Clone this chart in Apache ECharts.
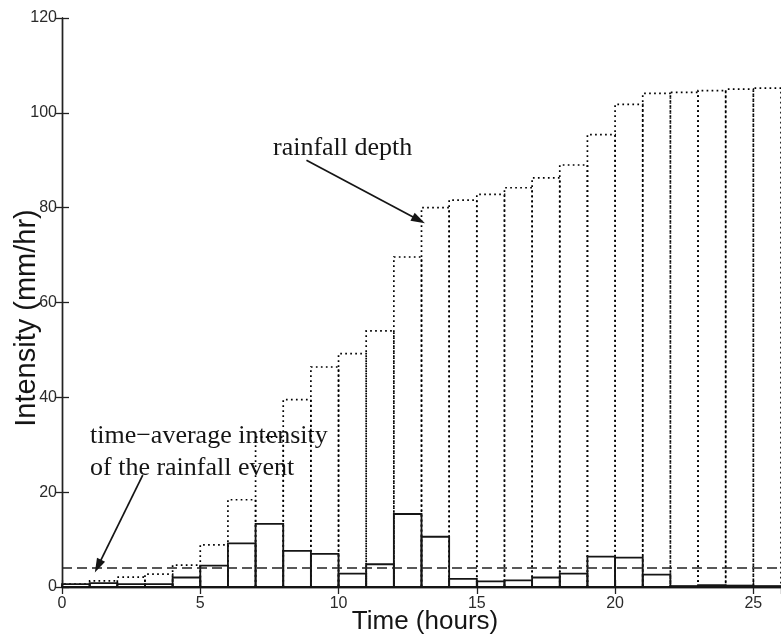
<!DOCTYPE html>
<html>
<head>
<meta charset="utf-8">
<script src="https://cdn.jsdelivr.net/npm/echarts@6/dist/echarts.min.js"></script>
<style>
  html, body { margin: 0; padding: 0; background: #fff; }
  #chart { width: 781px; height: 639px; }
</style>
</head>
<body>
<div id="chart"></div>
<script>
// Start of each one-hour interval (hours)
const hourStart = [0, 1, 2, 3, 4, 5, 6, 7, 8, 9, 10, 11, 12,
                   13, 14, 15, 16, 17, 18, 19, 20, 21, 22, 23, 24, 25];
// Hourly rainfall intensity (mm/hr)
const intensity = [0.6, 0.8, 0.6, 0.6, 2.0, 4.5, 9.2, 13.3, 7.6, 7.0, 2.8, 4.8, 15.4,
                   10.6, 1.7, 1.2, 1.4, 2.0, 2.8, 6.4, 6.2, 2.6, 0.2, 0.4, 0.3, 0.2];
// Accumulated rainfall depth at the end of each hour (mm)
const depth = [0.6, 1.3, 2.1, 2.7, 4.6, 8.9, 18.4, 31.6, 39.5, 46.4, 49.2, 54.0, 69.6,
               80.0, 81.6, 82.8, 84.2, 86.3, 89.0, 95.4, 101.8, 104.1, 104.3, 104.7, 105.0, 105.2];
// Time-average intensity of the whole event (mm/hr)
const meanIntensity = 4.0;
const xTickLabels = [0, 5, 10, 15, 20, 25];
const yTickLabels = [0, 20, 40, 60, 80, 100, 120];

const INK = '#151515';

// Outline of one hour-wide step of height v
function stepOutline(dotted) {
  return function (params, api) {
    const t = api.value(0), v = api.value(1);
    const p0 = api.coord([t, 0]);
    const p1 = api.coord([t + 1, v]);
    if (dotted) {
      return {
        type: 'polyline',
        shape: { points: [[p0[0], p0[1]], [p0[0], p1[1]], [p1[0], p1[1]], [p1[0], p0[1]]] },
        style: { fill: null, stroke: '#000', lineWidth: 1.7, lineDash: [1.7, 3.3] }
      };
    }
    return {
      type: 'rect',
      shape: { x: p0[0], y: p1[1], width: p1[0] - p0[0], height: p0[1] - p1[1] },
      style: { fill: null, stroke: INK, lineWidth: 1.8 }
    };
  };
}

const chart = echarts.init(document.getElementById('chart'), null, { renderer: 'canvas' });

const axisLine = { show: true, lineStyle: { color: '#222', width: 1.4 } };
const tickStyle = { show: true, inside: true, length: 7, lineStyle: { color: '#222', width: 1.3 } };

chart.setOption({
  animation: false,
  backgroundColor: '#fff',
  grid: { left: 62, top: 18, width: 720, height: 569, containLabel: false },
  xAxis: [
    {
      type: 'value', position: 'bottom', min: 0, max: 26, interval: 5,
      axisLine: axisLine, axisTick: tickStyle, splitLine: { show: false },
      axisLabel: {
        color: '#2a2a2a', fontFamily: 'Liberation Sans, Arial, sans-serif', fontSize: 16, margin: 9,
        showMaxLabel: false,
        formatter: v => (xTickLabels.indexOf(v) >= 0 ? String(v) : '')
      }
    },
    {
      type: 'value', position: 'top', min: 0, max: 26, interval: 5,
      axisLine: axisLine, axisTick: tickStyle, splitLine: { show: false },
      axisLabel: { show: false }
    }
  ],
  yAxis: [
    {
      type: 'value', position: 'left', min: 0, max: 120, interval: 20,
      axisLine: axisLine, axisTick: tickStyle, splitLine: { show: false },
      axisLabel: {
        color: '#2a2a2a', fontFamily: 'Liberation Sans, Arial, sans-serif', fontSize: 16, margin: 5,
        formatter: v => (yTickLabels.indexOf(v) >= 0 ? String(v) : '')
      }
    },
    {
      type: 'value', position: 'right', min: 0, max: 120, interval: 20,
      axisLine: axisLine, axisTick: tickStyle, splitLine: { show: false },
      axisLabel: { show: false }
    }
  ],
  series: [
    {
      name: 'rainfall depth', type: 'custom', xAxisIndex: 0, yAxisIndex: 0,
      renderItem: stepOutline(true),
      data: hourStart.map((t, i) => [t, depth[i]]),
      z: 2
    },
    {
      name: 'intensity', type: 'custom', xAxisIndex: 0, yAxisIndex: 0,
      renderItem: stepOutline(false),
      data: hourStart.map((t, i) => [t, intensity[i]]),
      z: 3
    },
    {
      name: 'time-average intensity', type: 'line', xAxisIndex: 0, yAxisIndex: 0,
      data: [[0, meanIntensity], [26, meanIntensity]],
      symbol: 'none',
      lineStyle: { color: '#222', width: 1.6, type: [10, 5] },
      z: 4,
      markLine: {
        silent: true,
        symbol: ['none', 'triangle'],
        symbolSize: [9, 14],
        label: { show: false },
        lineStyle: { color: INK, width: 1.7, type: 'solid' },
        data: [
          [{ coord: [8.84, 90.0] }, { coord: [12.9, 77.4] }],
          [{ coord: [2.92, 23.6] }, { coord: [1.3, 4.4] }]
        ]
      }
    }
  ],
  graphic: [
    {
      type: 'text', left: 273, top: 135,
      style: { text: 'rainfall depth', fill: INK, font: '26px "Liberation Serif", "Times New Roman", serif' }
    },
    {
      type: 'text', left: 90, top: 420,
      style: {
        text: 'time\u2212average intensity\nof the rainfall event', fill: INK,
        font: '26px "Liberation Serif", "Times New Roman", serif', lineHeight: 32
      }
    },
    {
      type: 'text', x: 425, y: 622,
      style: {
        text: 'Time (hours)', fill: INK, align: 'center', verticalAlign: 'middle',
        font: '26px "Liberation Sans", Arial, sans-serif'
      }
    },
    {
      type: 'text', x: 27, y: 318, rotation: Math.PI / 2,
      style: {
        text: 'Intensity (mm/hr)', fill: INK, align: 'center', verticalAlign: 'middle',
        font: '29px "Liberation Sans", Arial, sans-serif'
      }
    }
  ]
});
</script>
</body>
</html>
